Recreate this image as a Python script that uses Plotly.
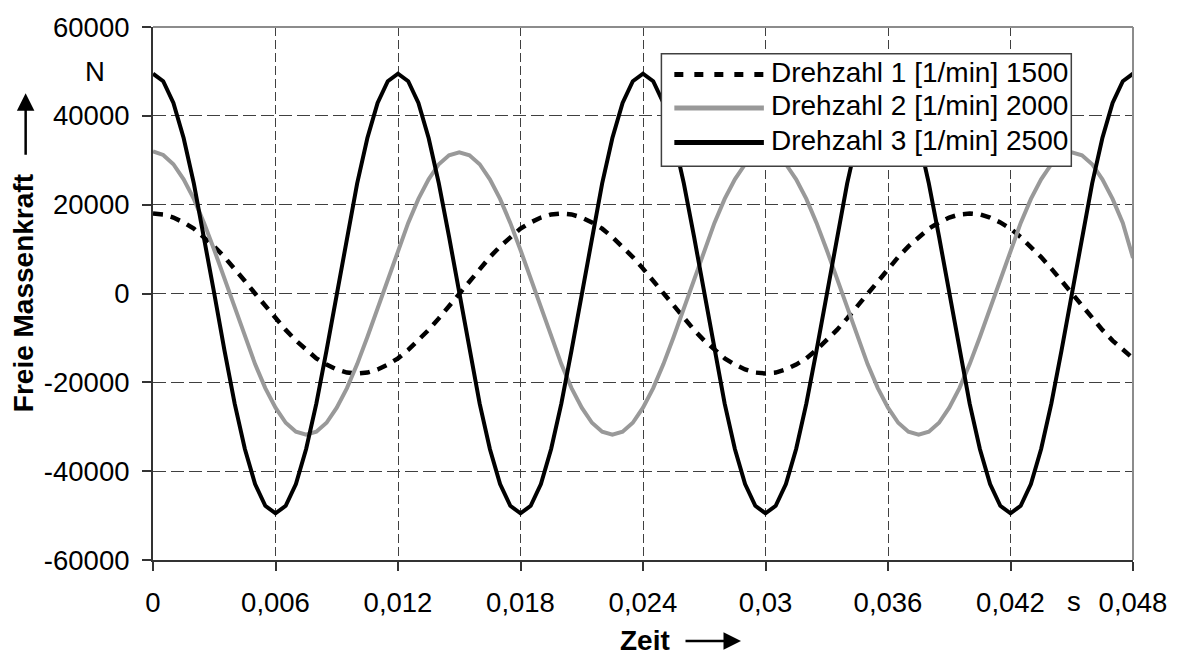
import plotly.graph_objects as go

# ---------------- data ----------------
zeit_s = [
    0.0000, 0.0005, 0.0010, 0.0015, 0.0020, 0.0025, 0.0030, 0.0035, 0.0040, 0.0045,
    0.0050, 0.0055, 0.0060, 0.0065, 0.0070, 0.0075, 0.0080, 0.0085, 0.0090, 0.0095,
    0.0100, 0.0105, 0.0110, 0.0115, 0.0120, 0.0125, 0.0130, 0.0135, 0.0140, 0.0145,
    0.0150, 0.0155, 0.0160, 0.0165, 0.0170, 0.0175, 0.0180, 0.0185, 0.0190, 0.0195,
    0.0200, 0.0205, 0.0210, 0.0215, 0.0220, 0.0225, 0.0230, 0.0235, 0.0240, 0.0245,
    0.0250, 0.0255, 0.0260, 0.0265, 0.0270, 0.0275, 0.0280, 0.0285, 0.0290, 0.0295,
    0.0300, 0.0305, 0.0310, 0.0315, 0.0320, 0.0325, 0.0330, 0.0335, 0.0340, 0.0345,
    0.0350, 0.0355, 0.0360, 0.0365, 0.0370, 0.0375, 0.0380, 0.0385, 0.0390, 0.0395,
    0.0400, 0.0405, 0.0410, 0.0415, 0.0420, 0.0425, 0.0430, 0.0435, 0.0440, 0.0445,
    0.0450, 0.0455, 0.0460, 0.0465, 0.0470, 0.0475, 0.0480,
]

drehzahl_1500 = [
    18000, 17800, 17100, 16000, 14600, 12700, 10600, 8200, 5600, 2800,
    0, -2800, -5600, -8200, -10600, -12700, -14600, -16000, -17100, -17800,
    -18000, -17800, -17100, -16000, -14600, -12700, -10600, -8200, -5600, -2800,
    0, 2800, 5600, 8200, 10600, 12700, 14600, 16000, 17100, 17800,
    18000, 17800, 17100, 16000, 14600, 12700, 10600, 8200, 5600, 2800,
    0, -2800, -5600, -8200, -10600, -12700, -14600, -16000, -17100, -17800,
    -18000, -17800, -17100, -16000, -14600, -12700, -10600, -8200, -5600, -2800,
    0, 2800, 5600, 8200, 10600, 12700, 14600, 16000, 17100, 17800,
    18000, 17800, 17100, 16000, 14600, 12700, 10600, 8200, 5600, 2800,
    0, -2800, -5600, -8200, -10600, -12700, -14600,
]

drehzahl_2000 = [
    32000, 31200, 29100, 25700, 21300, 15900, 9800, 3300, -3300, -9800,
    -15900, -21300, -25700, -29100, -31100, -31800, -31100, -29100, -25700, -21300,
    -15900, -9800, -3300, 3300, 9800, 15900, 21300, 25700, 29100, 31100,
    31800, 31100, 29100, 25700, 21300, 15900, 9800, 3300, -3300, -9800,
    -15900, -21300, -25700, -29100, -31100, -31800, -31100, -29100, -25700, -21300,
    -15900, -9800, -3300, 3300, 9800, 15900, 21300, 25700, 29100, 31100,
    31800, 31100, 29100, 25700, 21300, 15900, 9800, 3300, -3300, -9800,
    -15900, -21300, -25700, -29100, -31100, -31800, -31100, -29100, -25700, -21300,
    -15900, -9800, -3300, 3300, 9800, 15900, 21300, 25700, 29100, 31100,
    31800, 31100, 29100, 25700, 21300, 15900, 8000,
]

drehzahl_2500 = [
    49500, 47800, 42900, 35000, 24800, 12800, 0, -12800, -24800, -35000,
    -42900, -47800, -49500, -47800, -42900, -35000, -24800, -12800, 0, 12800,
    24800, 35000, 42900, 47800, 49500, 47800, 42900, 35000, 24800, 12800,
    0, -12800, -24800, -35000, -42900, -47800, -49500, -47800, -42900, -35000,
    -24800, -12800, 0, 12800, 24800, 35000, 42900, 47800, 49500, 47800,
    42900, 35000, 24800, 12800, 0, -12800, -24800, -35000, -42900, -47800,
    -49500, -47800, -42900, -35000, -24800, -12800, 0, 12800, 24800, 35000,
    42900, 47800, 49500, 47800, 42900, 35000, 24800, 12800, 0, -12800,
    -24800, -35000, -42900, -47800, -49500, -47800, -42900, -35000, -24800, -12800,
    0, 12800, 24800, 35000, 42900, 47800, 49500,
]

series_names = [
    "Drehzahl 1 [1/min] 1500",
    "Drehzahl 2 [1/min] 2000",
    "Drehzahl 3 [1/min] 2500",
]

x_tickvals = [0, 0.006, 0.012, 0.018, 0.024, 0.03, 0.036, 0.042, 0.048]
x_ticktext = ["0", "0,006", "0,012", "0,018", "0,024", "0,03", "0,036", "0,042", "0,048"]
y_tickvals = [-60000, -40000, -20000, 0, 20000, 40000, 60000]
y_ticktext = ["-60000", "-40000", "-20000", "0", "20000", "40000", "60000"]
x_unit_pos = [0.0451]
x_unit_text = ["s"]
y_unit_pos = 50000
y_unit_text = "N"

# ---------------- styling ----------------
FONT = "Liberation Sans, Arial, sans-serif"
TICKSIZE = 27.5
W, H = 1179, 656
ML, MR, MT, MB = 153, 41, 20, 96
PW, PH = W - ML - MR, H - MT - MB


def px(xpix):
    return (xpix - ML) / PW


def py(ypix):
    return (H - MB - ypix) / PH


styles = [
    dict(color="#000000", width=4.5, dash="10px,8px"),
    dict(color="#999999", width=4, dash="solid"),
    dict(color="#000000", width=4, dash="solid"),
]
legend_dash = ["9px,11px", "solid", "solid"]

fig = go.Figure()
for name, ys, st in zip(series_names,
                        [drehzahl_1500, drehzahl_2000, drehzahl_2500], styles):
    fig.add_trace(go.Scatter(x=zeit_s, y=ys, mode="lines", name=name,
                             line=st, showlegend=False))
# empty trace that carries the overlay axis used for the unit label "s"
fig.add_trace(go.Scatter(x=[], y=[], xaxis="x2", yaxis="y", showlegend=False,
                         hoverinfo="skip"))

shapes = []
annotations = []

# frame (top and right in grey)
shapes.append(dict(type="line", xref="paper", yref="paper", x0=0, x1=1, y0=1, y1=1,
                   line=dict(color="#8c8c8c", width=2), layer="above"))
shapes.append(dict(type="line", xref="paper", yref="paper", x0=1, x1=1, y0=0, y1=1,
                   line=dict(color="#8c8c8c", width=2), layer="above"))

# legend box
shapes.append(dict(type="rect", xref="paper", yref="paper",
                   x0=px(664), x1=px(1076), y0=py(161), y1=py(47),
                   fillcolor="white", line=dict(color="#404040", width=1.5),
                   layer="above"))
row_y = [68, 102, 137]
for i, (name, st) in enumerate(zip(series_names, styles)):
    shapes.append(dict(type="line", xref="paper", yref="paper",
                       x0=px(677), x1=px(767), y0=py(row_y[i]), y1=py(row_y[i]),
                       line=dict(color=st["color"], width=5, dash=legend_dash[i]),
                       layer="above"))
    annotations.append(dict(xref="paper", yref="paper", x=px(772), y=py(row_y[i] - 2),
                            text=name, showarrow=False, xanchor="left", yanchor="middle",
                            font=dict(family=FONT, size=28, color="black")))

# axis title (y) with arrow
annotations.append(dict(xref="paper", yref="paper", x=px(23), y=py(290),
                        text="<b>Freie Massenkraft</b>", textangle=-90, showarrow=False,
                        xanchor="center", yanchor="middle",
                        font=dict(family=FONT, size=28, color="black")))
annotations.append(dict(xref="paper", yref="paper", x=px(25), y=py(87), text="",
                        showarrow=True, ax=0, ay=63, arrowhead=2, arrowsize=1.4,
                        arrowwidth=2.5, arrowcolor="black"))

# axis title (x) with arrow
annotations.append(dict(xref="paper", yref="paper", x=px(648), y=py(642),
                        text="<b>Zeit</b>", showarrow=False,
                        xanchor="center", yanchor="middle",
                        font=dict(family=FONT, size=28, color="black")))
annotations.append(dict(xref="paper", yref="paper", x=px(744), y=py(642), text="",
                        showarrow=True, ax=-57, ay=0, arrowhead=2, arrowsize=1.4,
                        arrowwidth=2.5, arrowcolor="black"))

# unit label on the force axis
annotations.append(dict(xref="paper", yref="y", x=px(95), y=y_unit_pos, text=y_unit_text,
                        showarrow=False, xanchor="center", yanchor="middle",
                        font=dict(family=FONT, size=TICKSIZE, color="black")))

fig.update_layout(
    width=W, height=H,
    margin=dict(l=ML, r=MR, t=MT, b=MB, pad=0),
    paper_bgcolor="white", plot_bgcolor="white",
    font=dict(family=FONT, size=TICKSIZE, color="black"),
    showlegend=False,
    shapes=shapes,
    annotations=annotations,
)
fig.update_xaxes(
    range=[0, 0.048], tickmode="array", tickvals=x_tickvals, ticktext=x_ticktext,
    showgrid=True, gridcolor="#404040", gridwidth=1, griddash="9px,4px",
    zeroline=False, showline=True, linecolor="#333333", linewidth=2,
    ticks="outside", ticklen=9, tickwidth=1.5, tickcolor="#333333",
    ticklabelstandoff=8, tickfont=dict(family=FONT, size=TICKSIZE, color="black"),
    selector=dict(anchor="y"), row=None, col=None,
)
fig.update_layout(xaxis2=dict(
    overlaying="x", anchor="y", side="bottom", range=[0, 0.048],
    tickmode="array", tickvals=x_unit_pos, ticktext=x_unit_text,
    showgrid=False, zeroline=False, showline=False,
    ticks="outside", ticklen=9, tickcolor="rgba(0,0,0,0)",
    ticklabelstandoff=8, tickfont=dict(family=FONT, size=TICKSIZE, color="black"),
))
fig.update_layout(xaxis=dict(
    range=[0, 0.048], tickmode="array", tickvals=x_tickvals, ticktext=x_ticktext,
    showgrid=True, gridcolor="#404040", gridwidth=1, griddash="9px,4px",
    zeroline=False, showline=True, linecolor="#333333", linewidth=2,
    ticks="outside", ticklen=9, tickwidth=1.5, tickcolor="#333333",
    ticklabelstandoff=8, tickfont=dict(family=FONT, size=TICKSIZE, color="black"),
))
fig.update_yaxes(
    range=[-60000, 60000], tickmode="array", tickvals=y_tickvals, ticktext=y_ticktext,
    showgrid=True, gridcolor="#404040", gridwidth=1, griddash="13px,5px",
    zeroline=False, showline=True, linecolor="#333333", linewidth=2,
    ticks="outside", ticklen=9, tickwidth=1.5, tickcolor="#333333",
    ticklabelstandoff=7, tickfont=dict(family=FONT, size=TICKSIZE, color="black"),
)

fig.write_html("out.html")
